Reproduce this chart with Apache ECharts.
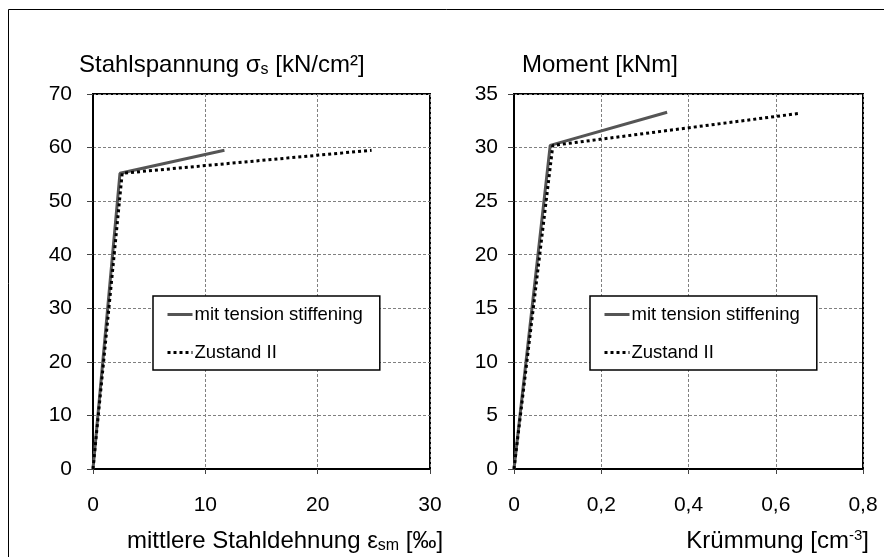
<!DOCTYPE html>
<html>
<head>
<meta charset="utf-8">
<title>Stahlspannung / Moment</title>
<script src="https://cdn.jsdelivr.net/npm/echarts@6/dist/echarts.min.js"></script>
<style>
  html, body { margin: 0; padding: 0; background: #fff; }
  #chart { width: 884px; height: 557px; }
</style>
</head>
<body>
<div id="chart"></div>
<script>
// left chart: steel stress over mean steel strain
var strainTension = [0, 2.4, 11.7];
var stressTension = [0, 55.2, 59.5];
var strainState2 = [0, 2.6, 24.8];
var stressState2 = [0, 55.2, 59.5];

// right chart: moment over curvature
var curvTension = [0, 0.083, 0.351];
var momentTension = [0, 30.2, 33.3];
var curvState2 = [0, 0.089, 0.656];
var momentState2 = [0, 30.2, 33.2];

var seriesNames = ['mit tension stiffening', 'Zustand II'];

var font = 'Liberation Sans, Arial, sans-serif';

function pairs(xs, ys) {
  var out = [];
  for (var i = 0; i < xs.length; i++) out.push([xs[i], ys[i]]);
  return out;
}

function comma(v) {
  return String(v).replace('.', ',');
}

var richText = {
  t: { fontSize: 24, fontFamily: font, fontWeight: 'normal', color: '#000', lineHeight: 26, verticalAlign: 'middle' },
  sub: { fontSize: 16, fontFamily: font, fontWeight: 'normal', color: '#000', lineHeight: 26, verticalAlign: 'bottom' },
  sup: { fontSize: 15, fontFamily: font, fontWeight: 'normal', color: '#000', lineHeight: 26, verticalAlign: 'top' }
};

function axisX(idx, max, interval) {
  return {
    type: 'value', gridIndex: idx, min: 0, max: max, interval: interval,
    axisLine: { show: true, onZero: false, lineStyle: { color: '#000', width: 2 } },
    axisTick: { show: true, length: 5, lineStyle: { color: '#444' } },
    axisLabel: { margin: 26, fontSize: 21, fontFamily: font, color: '#000', formatter: comma },
    splitLine: { show: true, lineStyle: { color: '#808080', type: [3, 2], width: 1 } }
  };
}

function axisY(idx, max, interval, margin) {
  return {
    type: 'value', gridIndex: idx, min: 0, max: max, interval: interval,
    axisLine: { show: true, onZero: false, lineStyle: { color: '#000', width: 2 } },
    axisTick: { show: true, length: 6, lineStyle: { color: '#444' } },
    axisLabel: { margin: margin, fontSize: 21, fontFamily: font, color: '#000' },
    splitLine: { show: true, lineStyle: { color: '#808080', type: [3, 2], width: 1 } }
  };
}

function legendBox(left) {
  return {
    left: left, top: 296,
    orient: 'vertical',
    data: seriesNames,
    selectedMode: false,
    itemWidth: 25, itemHeight: 18, itemGap: 19,
    padding: [9, 17, 8, 13],
    backgroundColor: '#fff',
    borderColor: '#000', borderWidth: 1.5, borderRadius: 0,
    itemStyle: { opacity: 0 },
    lineStyle: { width: 3 },
    textStyle: { fontSize: 18.5, fontFamily: font, color: '#000', padding: [0, 0, 0, -3] }
  };
}

var solidStyle = { color: '#555', width: 3, type: 'solid' };
var dotStyle = { color: '#000', width: 3, type: [3, 3] };

var option = {
  backgroundColor: '#fff',
  animation: false,
  graphic: [{
    type: 'rect',
    shape: { x: 8.5, y: 9.5, width: 1000, height: 1000 },
    style: { fill: 'none', stroke: '#000', lineWidth: 1 },
    silent: true
  }],
  title: [
    { left: 79, top: 52, padding: 0,
      text: '{t|Stahlspannung σ}{sub|s}{t| [kN/cm²]}', textStyle: { fontWeight: 'normal', rich: richText } },
    { left: 522, top: 52, padding: 0,
      text: '{t|Moment [kNm]}', textStyle: { fontWeight: 'normal', rich: richText } },
    { left: 127, top: 528, padding: 0,
      text: '{t|mittlere Stahldehnung ε}{sub|sm}{t| [‰]}', textStyle: { fontWeight: 'normal', rich: richText } },
    { right: 15, top: 528, padding: 0,
      text: '{t|Krümmung [cm}{sup|-3}{t|]}', textStyle: { fontWeight: 'normal', rich: richText } }
  ],
  legend: [legendBox(153), legendBox(590)],
  grid: [
    { left: 93, top: 94, width: 337, height: 375, show: true, borderColor: '#000', borderWidth: 2, backgroundColor: 'transparent' },
    { left: 514, top: 94, width: 349, height: 375, show: true, borderColor: '#000', borderWidth: 2, backgroundColor: 'transparent' }
  ],
  xAxis: [axisX(0, 30, 10), axisX(1, 0.8, 0.2)],
  yAxis: [axisY(0, 70, 10, 21), axisY(1, 35, 5, 16)],
  series: [
    { name: seriesNames[0], type: 'line', xAxisIndex: 0, yAxisIndex: 0, symbol: 'none',
      lineStyle: solidStyle, itemStyle: { color: '#555' }, data: pairs(strainTension, stressTension), z: 3 },
    { name: seriesNames[1], type: 'line', xAxisIndex: 0, yAxisIndex: 0, symbol: 'none',
      lineStyle: dotStyle, itemStyle: { color: '#000' }, data: pairs(strainState2, stressState2), z: 4 },
    { name: seriesNames[0], type: 'line', xAxisIndex: 1, yAxisIndex: 1, symbol: 'none',
      lineStyle: solidStyle, itemStyle: { color: '#555' }, data: pairs(curvTension, momentTension), z: 3 },
    { name: seriesNames[1], type: 'line', xAxisIndex: 1, yAxisIndex: 1, symbol: 'none',
      lineStyle: dotStyle, itemStyle: { color: '#000' }, data: pairs(curvState2, momentState2), z: 4 }
  ]
};

var myChart = echarts.init(document.getElementById('chart'));
myChart.setOption(option);
</script>
</body>
</html>
